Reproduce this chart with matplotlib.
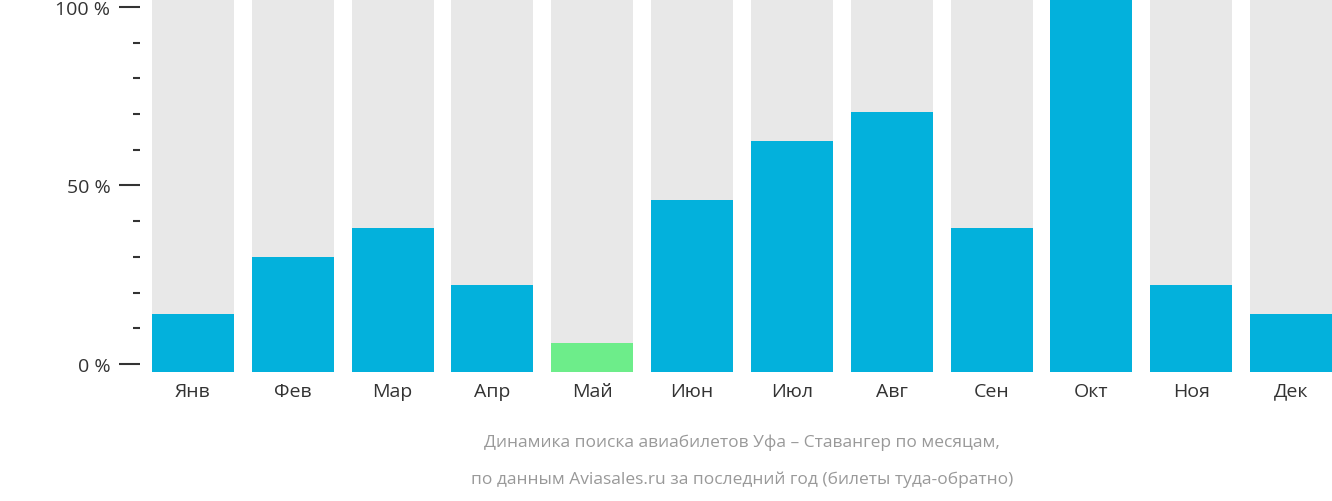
import matplotlib
matplotlib.use("Agg")
import matplotlib.pyplot as plt
from matplotlib.ticker import MultipleLocator, FixedLocator

months = ["Янв","Фев","Мар","Апр","Май","Июн","Июл","Авг","Сен","Окт","Ноя","Дек"]
values = [14, 30, 38, 22, 6, 46, 62.5, 70.5, 38, 103, 22, 14]
colors = ["#03b1dc"]*12
colors[4] = "#6ded8a"

plt.rcParams["font.family"] = "Open Sans"
fig = plt.figure(figsize=(13.32, 5.02), dpi=100)
ax = fig.add_axes([152/1332, 1-373/502, 1180/1332, 373/502])
ybot, ytop = -2.24, 102.24
x = list(range(12))
ax.bar(x, [ytop-ybot]*12, bottom=ybot, width=0.82, color="#e8e8e8")
ax.bar(x, [v-ybot for v in values], bottom=ybot, width=0.82, color=colors)
ax.set_xlim(-0.41, 11.41)
ax.set_ylim(ybot, ytop)
for s in ["top","right","bottom"]:
    ax.spines[s].set_visible(False)
ax.spines["left"].set_position(("outward", 9))
ax.spines["left"].set_visible(False)
ax.yaxis.set_major_locator(FixedLocator([0, 50, 100]))
ax.yaxis.set_minor_locator(FixedLocator([10,20,30,40,60,70,80,90]))
ax.set_yticklabels(["0 %", "50 %", "100 %"], fontsize=14, color="#333333")
ax.tick_params(axis="y", which="major", length=15, width=1.5, color="#333333", pad=6)
ax.tick_params(axis="y", which="minor", length=5, width=1.5, color="#333333")
ax.set_xticks(x)
ax.set_xticklabels(months, fontsize=14, color="#333333")
ax.tick_params(axis="x", length=0, pad=7)
fig.text(742/1332, 1-443/502, "Динамика поиска авиабилетов Уфа – Ставангер по месяцам,", ha="center", va="center", fontsize=12.5, color="#999999")
fig.text(742/1332, 1-480/502, "по данным Aviasales.ru за последний год (билеты туда-обратно)", ha="center", va="center", fontsize=12.5, color="#999999")
fig.savefig("out.png", dpi=100)
